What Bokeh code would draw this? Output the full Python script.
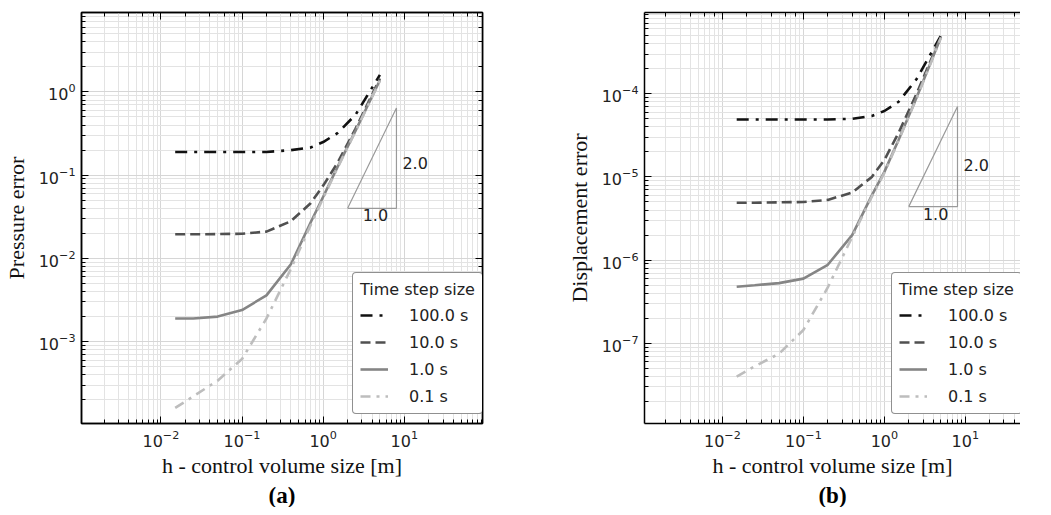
from bokeh.plotting import figure
from bokeh.models import LogAxis, Legend, LegendItem, LogTicker, Title, CustomJSTickFormatter
from bokeh.layouts import row
from bokeh.embed import file_html
from bokeh.resources import INLINE
from bokeh.core.properties import value

# ---------------- data ----------------
h = [0.015, 0.025, 0.05, 0.1, 0.2, 0.4, 0.7, 1.0, 1.5, 2.5, 5.0]
labels = ["100.0 s", "10.0 s", "1.0 s", "0.1 s"]

p_100 = [0.19, 0.19, 0.19, 0.19, 0.19, 0.20, 0.215, 0.25, 0.32, 0.53, 1.6]
p_10 = [0.0195, 0.0195, 0.0196, 0.0198, 0.021, 0.028, 0.046, 0.075, 0.14, 0.36, 1.45]
p_1 = [0.0019, 0.0019, 0.0020, 0.0024, 0.0036, 0.0085, 0.027, 0.055, 0.125, 0.34, 1.38]
p_01 = [0.00016, 0.00022, 0.00034, 0.00062, 0.0019, 0.0075, 0.025, 0.053, 0.122, 0.335, 1.36]

d_100 = [4.9e-5, 4.9e-5, 4.9e-5, 4.9e-5, 4.9e-5, 5.0e-5, 5.4e-5, 6.2e-5, 8.0e-5, 1.5e-4, 5.0e-4]
d_10 = [4.9e-6, 4.9e-6, 4.95e-6, 5.0e-6, 5.3e-6, 6.5e-6, 1.0e-5, 1.6e-5, 3.4e-5, 1.0e-4, 4.9e-4]
d_1 = [4.8e-7, 5.0e-7, 5.3e-7, 6.0e-7, 8.8e-7, 2.0e-6, 6.0e-6, 1.15e-5, 2.8e-5, 9.0e-5, 4.8e-4]
d_01 = [4.0e-8, 5.3e-8, 7.5e-8, 1.45e-7, 4.7e-7, 1.9e-6, 5.8e-6, 1.12e-5, 2.75e-5, 8.8e-5, 4.7e-4]

tri_x = [2.0, 8.0, 8.0, 2.0]
tri_p = [0.04, 0.04, 0.64, 0.04]
tri_d = [4.4e-6, 4.4e-6, 7.0e-5, 4.4e-6]
slope_labels = ["1.0", "2.0"]
legend_title = "Time step size"
x_label = "h - control volume size [m]"

# ---------------- styles ----------------
colors = ["#111111", "#505050", "#858585", "#bdbdbd"]
dashes = ["12 7 3 7", "10 5", "solid", "10 6 3 6"]
SANS = "DejaVu Sans"
SERIF = "Liberation Serif"


def style_axis(ax, show_labels=True):
    ax.axis_line_color = "black"
    ax.axis_line_width = 1.5
    ax.major_tick_in = 7
    ax.major_tick_out = 0
    ax.minor_tick_in = 4
    ax.minor_tick_out = 0
    ax.major_tick_line_color = "black"
    ax.minor_tick_line_color = "black"
    ax.major_label_text_font = SANS
    ax.major_label_text_font_size = "16px"
    ax.major_label_text_color = "#222222"
    ax.major_label_text_line_height = 1.0
    ax.axis_label_text_font = SERIF
    ax.axis_label_text_font_size = "22px"
    ax.axis_label_text_font_style = "normal"
    ax.axis_label_text_color = "#111111"
    ax.axis_label_text_line_height = 1.0
    if not show_labels:
        ax.formatter = CustomJSTickFormatter(code="return ''")
        ax.major_label_standoff = 0
        ax.axis_label_standoff = 0
        ax.major_label_text_font_size = "1px"


def make_plot(series, yr, xr, ylabel, tri_y, lab1_xy, lab2_xy, tag, tag_offset, width, height,
              mbl, mbr, mbt, mbb, add_right, leg_loc):
    p = figure(x_axis_type="log", y_axis_type="log", x_range=xr, y_range=yr,
               width=width, height=height, output_backend="svg", toolbar_location=None,
               min_border_left=mbl, min_border_right=mbr, min_border_top=mbt,
               min_border_bottom=mbb)
    p.outline_line_color = "black" if add_right else None
    p.outline_line_width = 1.5
    for g in (p.xgrid, p.ygrid):
        g.grid_line_color = "#d6d6d6"
        g.grid_line_width = 1
        g.minor_grid_line_color = "#e3e3e3"
        g.minor_grid_line_width = 1
    p.xaxis.axis_label = x_label
    p.yaxis.axis_label = ylabel
    for ax in p.xaxis + p.yaxis:
        style_axis(ax)
    p.xaxis.major_label_standoff = 6
    p.yaxis.major_label_standoff = 6
    p.xaxis.axis_label_standoff = 3
    p.yaxis.axis_label_standoff = 7

    top = LogAxis(ticker=LogTicker())
    style_axis(top, False)
    p.add_layout(top, "above")
    if add_right:
        right = LogAxis(ticker=LogTicker())
        style_axis(right, False)
        p.add_layout(right, "right")

    items = []
    for ys, c, d, lab in zip(series, colors, dashes, labels):
        r = p.line(h, ys, line_color=c, line_width=2.6, line_dash=d)
        items.append(LegendItem(label=lab, renderers=[r]))

    p.line(tri_x, tri_y, line_color="#9a9a9a", line_width=1.2)
    p.text(x=[lab1_xy[0]], y=[lab1_xy[1]], text=[slope_labels[0]], text_font=value(SANS),
           text_font_size="16px", text_align="center", text_baseline="top",
           text_color="#222222", y_offset=1)
    p.text(x=[lab2_xy[0]], y=[lab2_xy[1]], text=[slope_labels[1]], text_font=value(SANS),
           text_font_size="16px", text_align="left", text_baseline="middle",
           text_color="#222222", x_offset=6)

    leg = Legend(items=items, location=leg_loc, title=legend_title)
    leg.margin = 0
    leg.padding = 7
    leg.spacing = 7
    leg.label_height = 20
    leg.glyph_height = 20
    leg.glyph_width = 28
    leg.label_standoff = 21
    leg.label_text_font = SANS
    leg.label_text_font_size = "16px"
    leg.label_text_color = "#222222"
    leg.title_text_font = SANS
    leg.title_text_font_size = "16px"
    leg.title_text_font_style = "normal"
    leg.title_text_color = "#222222"
    leg.title_standoff = 6
    leg.border_line_color = "#222222"
    leg.border_line_width = 1.5
    leg.background_fill_color = "white"
    leg.background_fill_alpha = 1.0
    if "border_radius" in leg.properties():
        leg.border_radius = 4
    p.add_layout(leg)

    t = Title(text=tag, align="center", offset=tag_offset, standoff=0,
              text_font=SERIF, text_font_size="23px", text_font_style="bold",
              text_color="black", text_line_height=1.0)
    p.add_layout(t, "below")
    return p


pa = make_plot([p_100, p_10, p_1, p_01], (1.04e-4, 9.0), (1.05e-3, 92), "Pressure error",
               tri_p, (4.4, 0.04), (8.0, 0.14), "(a)", -24, 512, 507, 71, 30, 2, 0,
               True, (271, 9))
pb = make_plot([d_100, d_10, d_1, d_01], (1.09e-8, 9.46e-4), (1.09e-3, 48), "Displacement error",
               tri_d, (4.3, 4.4e-6), (8.0, 1.4e-5), "(b)", -22, 508, 507, 132, 0, 12, 0,
               False, (247, 9))

layout = row(pa, pb)
open("out.html", "w").write(file_html(layout, INLINE))
